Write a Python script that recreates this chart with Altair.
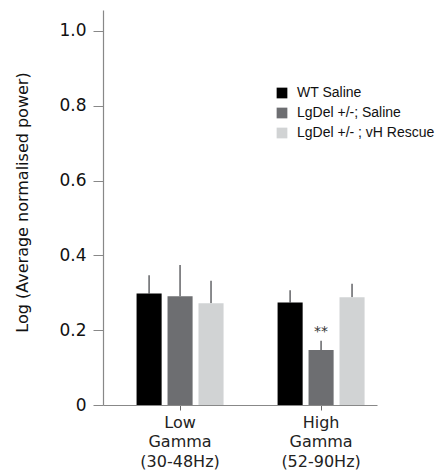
import altair as alt
import pandas as pd

# Frequency bands (x categories) and treatment groups
bands = ["Low\nGamma\n(30-48Hz)", "High\nGamma\n(52-90Hz)"]
groups = ["WT Saline", "LgDel +/-;  Saline", "LgDel +/- ; vH Rescue"]
colors = ["#000000", "#6d6e71", "#d1d3d4"]

# Mean log power and SEM per group, one list per band
means_low = [0.298, 0.291, 0.272]
sem_low = [0.049, 0.083, 0.060]
means_high = [0.274, 0.147, 0.288]
sem_high = [0.033, 0.025, 0.036]
sig_high = ["", "**", ""]

rows = []
for g, m, s in zip(groups, means_low, sem_low):
    rows.append({"band": bands[0], "group": g, "mean": m, "top": m + s, "sig": ""})
for g, m, s, k in zip(groups, means_high, sem_high, sig_high):
    rows.append({"band": bands[1], "group": g, "mean": m, "top": m + s, "sig": k})
df = pd.DataFrame(rows)

x_enc = alt.X(
    "band:N",
    sort=bands,
    scale=alt.Scale(paddingInner=0.383, paddingOuter=0.163, align=0.73),
    axis=alt.Axis(
        title=None,
        labelAngle=0,
        labelAlign="center",
        labelExpr="split(datum.label, '\\n')",
        labelFont="DejaVu Sans",
        labelFontSize=16,
        labelLineHeight=19.5,
        labelColor="#222222",
        labelPadding=12,
        tickSize=5,
        tickColor="#666666",
        domainColor="#888888",
        domainWidth=1.2,
    ),
)
xoff = alt.XOffset("group:N", sort=groups, scale=alt.Scale(paddingInner=0.19, paddingOuter=0))
y_scale = alt.Scale(domain=[0, 1.056], nice=False)

bars = alt.Chart(df).mark_bar().encode(
    x=x_enc,
    xOffset=xoff,
    y=alt.Y(
        "mean:Q",
        scale=y_scale,
        axis=alt.Axis(
            title="Log (Average normalised power)",
            values=[0, 0.2, 0.4, 0.6, 0.8, 1.0],
            labelExpr="datum.value == 0 ? '0' : format(datum.value, '.1f')",
            labelFont="DejaVu Sans",
            labelFontSize=17,
            labelColor="#111111",
            labelPadding=7,
            tickSize=10,
            tickColor="#888888",
            domainColor="#888888",
            domainWidth=1.2,
            grid=False,
            titleFont="DejaVu Sans",
            titleFontSize=16,
            titleFontWeight="normal",
            titleColor="#111111",
            titleAngle=-90,
            titleBaseline="middle",
            titleAlign="center",
            titleX=-81,
            titleY=192,
        ),
    ),
    color=alt.Color(
        "group:N",
        sort=groups,
        scale=alt.Scale(domain=groups, range=colors),
        legend=alt.Legend(
            title=None,
            orient="none",
            legendX=172,
            legendY=76,
            symbolType="square",
            symbolSize=115,
            symbolStrokeWidth=0,
            labelFont="Liberation Sans",
            labelFontSize=14,
            labelColor="#111111",
            labelOffset=8,
            rowPadding=6,
            padding=0,
        ),
    ),
)

errs = alt.Chart(df).mark_rule(color="#6d6e71", strokeWidth=1.6).encode(
    x=alt.X("band:N", sort=bands),
    xOffset=xoff,
    y=alt.Y("mean:Q", scale=y_scale),
    y2="top:Q",
)

stars = alt.Chart(df).mark_text(
    font="DejaVu Sans", fontSize=14, color="#333333", baseline="middle", dy=-9
).encode(
    x=alt.X("band:N", sort=bands),
    xOffset=xoff,
    y=alt.Y("top:Q", scale=y_scale),
    text="sig:N",
)

chart = (
    alt.layer(errs, bars, stars)
    .properties(
        width=274,
        height=395,
        autosize=alt.AutoSizeParams(type="none"),
        padding={"left": 103, "top": 10, "right": 62, "bottom": 68},
    )
    .configure_view(stroke=None)
)

chart.save("out.html", embed_options={"renderer": "svg", "actions": False})
